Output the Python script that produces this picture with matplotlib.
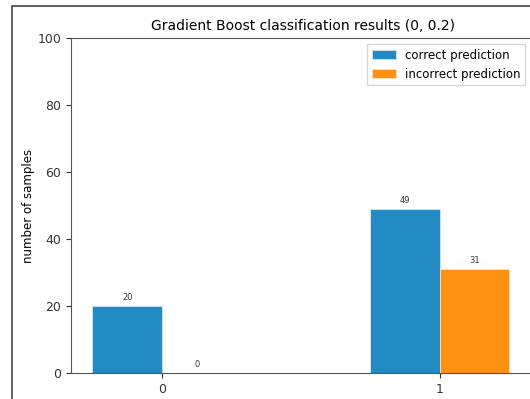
import matplotlib
matplotlib.use("Agg")
import matplotlib.pyplot as plt
import numpy as np
from matplotlib.patches import Rectangle

classes = ["0", "1"]
correct = [20, 49]
incorrect = [0, 31]

blue = "#228bc4"
orange = "#ff9012"
spine_col = "#555555"

fig = plt.figure(figsize=(5.30, 3.99), dpi=100)
# outer frame of the figure window
fig.patches.append(Rectangle((12 / 530, -0.05), 1.2, 1 - 6 / 399 + 0.05,
                             transform=fig.transFigure, fill=False,
                             edgecolor="#333333", linewidth=1.1))

ax = fig.add_axes([71 / 530, 1 - 373 / 399, 464 / 530, 335 / 399])

x = np.arange(len(classes))
w = 0.25
b1 = ax.bar(x - w / 2, correct, w, color=blue, edgecolor="#cfe6f3", linewidth=0.6,
            label="correct prediction")
b2 = ax.bar(x + w / 2, incorrect, w, color=orange, edgecolor="#ffe2bf", linewidth=0.6,
            label="incorrect prediction")

for bars in (b1, b2):
    for r in bars:
        ax.annotate(f"{int(r.get_height())}", (r.get_x() + r.get_width() / 2, r.get_height()),
                    xytext=(0, 3), textcoords="offset points", ha="center", va="bottom",
                    fontsize=6, color="#333333")

ax.set_xlim(-0.327, 1.342)
ax.set_ylim(0, 100)
ax.set_xticks(x)
ax.set_xticklabels(classes, fontsize=9)
ax.tick_params(axis="y", labelsize=9)
ax.set_ylabel("number of samples", fontsize=8.5, labelpad=2)
ax.set_title("Gradient Boost classification results (0, 0.2)", fontsize=10)
for s in ax.spines.values():
    s.set_color(spine_col)
ax.tick_params(colors="#333333")
ax.legend(loc="upper right", bbox_to_anchor=(0.992, 1.0), fontsize=8.5, fancybox=False)

fig.savefig("out.png", dpi=100)
